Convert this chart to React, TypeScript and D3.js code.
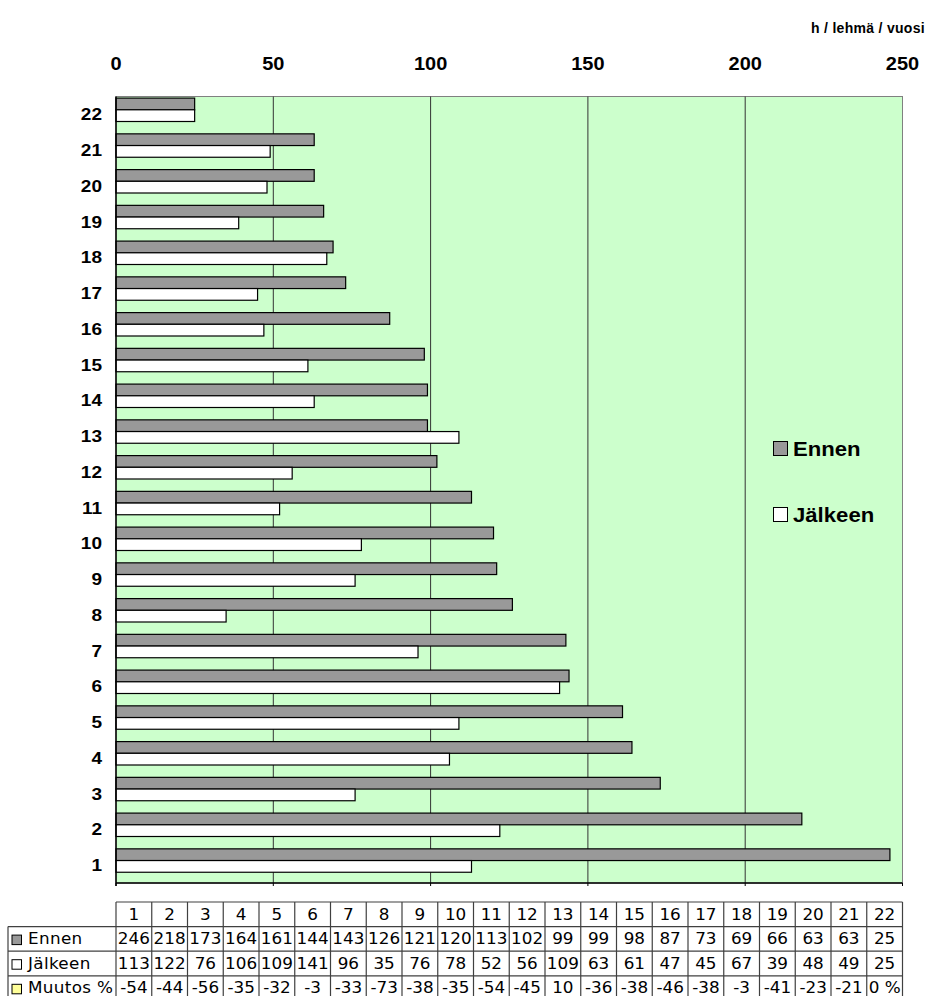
import React from "react";
import * as d3 from "d3";

// Working hours per cow per year, before and after, for 22 farms
const categories = ["1", "2", "3", "4", "5", "6", "7", "8", "9", "10", "11", "12", "13", "14", "15", "16", "17", "18", "19", "20", "21", "22"];
const ennen = [246, 218, 173, 164, 161, 144, 143, 126, 121, 120, 113, 102, 99, 99, 98, 87, 73, 69, 66, 63, 63, 25];
const jalkeen = [113, 122, 76, 106, 109, 141, 96, 35, 76, 78, 52, 56, 109, 63, 61, 47, 45, 67, 39, 48, 49, 25];
const muutos = ["-54", "-44", "-56", "-35", "-32", "-3", "-33", "-73", "-38", "-35", "-54", "-45", "10", "-36", "-38", "-46", "-38", "-3", "-41", "-23", "-21", "0 %"];
const xTicks = [0, 50, 100, 150, 200, 250];
const seriesNames = ["Ennen", "Jälkeen"];
const tableRows = ["Ennen", "Jälkeen", "Muutos %"];

const W = 928;
const H = 996;
const plot = { left: 116, right: 902.5, top: 96.5, bottom: 883 };
const ARIAL = "'Liberation Sans', Arial, sans-serif";
const VERDANA = "'DejaVu Sans', Verdana, sans-serif";
const GREY = "#999999";
const BG = "#CCFFCC";
const KEY_COLORS = [GREY, "#FFFFFF", "#FFFF99"];

// Text widened horizontally around its anchor point
function WideText(props: {
  x: number;
  y: number;
  sx: number;
  anchor?: "start" | "middle" | "end";
  family: string;
  size: number;
  bold?: boolean;
  spacing?: number;
  children: React.ReactNode;
}) {
  const { x, y, sx, anchor = "start", family, size, bold, spacing, children } = props;
  return (
    <text
      transform={`translate(${x},${y}) scale(${sx},1)`}
      textAnchor={anchor}
      fontFamily={family}
      fontSize={size}
      fontWeight={bold ? "bold" : "normal"}
      letterSpacing={spacing}
      fill="#000"
    >
      {children}
    </text>
  );
}

export default function App() {
  const x = d3.scaleLinear().domain([0, 250]).range([plot.left, plot.right]);
  const y = d3
    .scaleBand<string>()
    .domain([...categories].reverse())
    .range([plot.top, plot.bottom])
    .paddingInner(0)
    .paddingOuter(0);
  const barH = 11.7;
  const barOffset = 1.6;

  // Data table below the chart
  const col = d3.scaleBand<string>().domain(categories).range([plot.left, plot.right]);
  const tableTop = 902;
  const rowH = 24.6;
  const rowY = (i: number) => tableTop + i * rowH;
  const tableLeft = 8;
  const rowValues = [ennen.map(String), jalkeen.map(String), muutos];
  const lineColor = "#404040";
  const tSize = 15;
  const tStretch = 1.12;

  return (
    <svg width={W} height={H} style={{ position: "absolute", left: 0, top: 0, background: "#fff" }}>
      {/* plot background */}
      <rect x={plot.left} y={plot.top} width={plot.right - plot.left} height={plot.bottom - plot.top} fill={BG} stroke="#808080" strokeWidth={1} />
      {/* vertical grid */}
      {xTicks.slice(1, -1).map((t) => (
        <line key={t} x1={x(t)} x2={x(t)} y1={plot.top} y2={plot.bottom} stroke="#333" strokeWidth={1} />
      ))}
      {/* bars */}
      {categories.map((c, i) => {
        const y0 = (y(c) as number) + barOffset;
        return (
          <g key={c}>
            <rect x={x(0)} y={y0} width={x(ennen[i]) - x(0)} height={barH} fill={GREY} stroke="#000" strokeWidth={1.2} />
            <rect x={x(0)} y={y0 + barH} width={x(jalkeen[i]) - x(0)} height={barH} fill="#fff" stroke="#000" strokeWidth={1.2} />
          </g>
        );
      })}
      {/* axis lines */}
      <line x1={plot.left} x2={plot.left} y1={plot.top} y2={plot.bottom + 3} stroke="#000" strokeWidth={1.5} />
      <line x1={plot.left} x2={plot.right} y1={plot.bottom} y2={plot.bottom} stroke="#000" strokeWidth={1.5} />
      {xTicks.map((t) => (
        <line key={"tk" + t} x1={x(t)} x2={x(t)} y1={plot.bottom} y2={plot.bottom + 3} stroke="#000" strokeWidth={1} />
      ))}
      {/* value labels along the top */}
      {xTicks.map((t) => (
        <WideText key={"xl" + t} x={x(t)} y={70} sx={1.08} anchor="middle" family={ARIAL} size={18.5} bold>
          {t}
        </WideText>
      ))}
      <WideText x={925} y={33} sx={1} anchor="end" family={ARIAL} size={14} bold spacing={0.3}>
        h / lehmä / vuosi
      </WideText>
      {/* category labels */}
      {categories.map((c) => (
        <WideText key={"yl" + c} x={102} y={(y(c) as number) + y.bandwidth() / 2 + 6} sx={1.12} anchor="end" family={ARIAL} size={17} bold>
          {c}
        </WideText>
      ))}
      {/* legend */}
      {seriesNames.map((s, i) => {
        const by = 441.5 + i * 66;
        return (
          <g key={s}>
            <rect x={773.5} y={by} width={14} height={14} fill={KEY_COLORS[i]} stroke="#000" strokeWidth={1} />
            <WideText x={793} y={by + 14} sx={1.08} family={ARIAL} size={20.5} bold>
              {s}
            </WideText>
          </g>
        );
      })}
      {/* data table */}
      <g>
        {categories.map((c) => (
          <WideText key={"h" + c} x={(col(c) as number) + col.bandwidth() / 2} y={rowY(0) + 17.5} sx={tStretch} anchor="middle" family={VERDANA} size={tSize}>
            {c}
          </WideText>
        ))}
        {tableRows.map((r, ri) => (
          <g key={r}>
            <rect x={12} y={rowY(ri + 1) + 8.5} width={9.5} height={9.5} fill={KEY_COLORS[ri]} stroke="#000" strokeWidth={1} />
            <WideText x={28} y={rowY(ri + 1) + 17.5} sx={tStretch} family={VERDANA} size={tSize} spacing={0.3}>
              {r}
            </WideText>
            {categories.map((c, ci) => (
              <WideText key={c} x={(col(c) as number) + col.bandwidth() / 2} y={rowY(ri + 1) + 17.5} sx={tStretch} anchor="middle" family={VERDANA} size={tSize}>
                {rowValues[ri][ci]}
              </WideText>
            ))}
          </g>
        ))}
        <line x1={plot.left} x2={plot.right} y1={rowY(0)} y2={rowY(0)} stroke={lineColor} strokeWidth={1.2} />
        {[1, 2, 3].map((i) => (
          <line key={"hl" + i} x1={tableLeft} x2={plot.right} y1={rowY(i)} y2={rowY(i)} stroke={lineColor} strokeWidth={1.2} />
        ))}
        <line x1={tableLeft} x2={tableLeft} y1={rowY(1)} y2={H} stroke={lineColor} strokeWidth={1.2} />
        {categories.map((c) => (
          <line key={"vl" + c} x1={col(c) as number} x2={col(c) as number} y1={rowY(0)} y2={H} stroke={lineColor} strokeWidth={1.2} />
        ))}
        <line x1={plot.right} x2={plot.right} y1={rowY(0)} y2={H} stroke={lineColor} strokeWidth={1.2} />
      </g>
    </svg>
  );
}
